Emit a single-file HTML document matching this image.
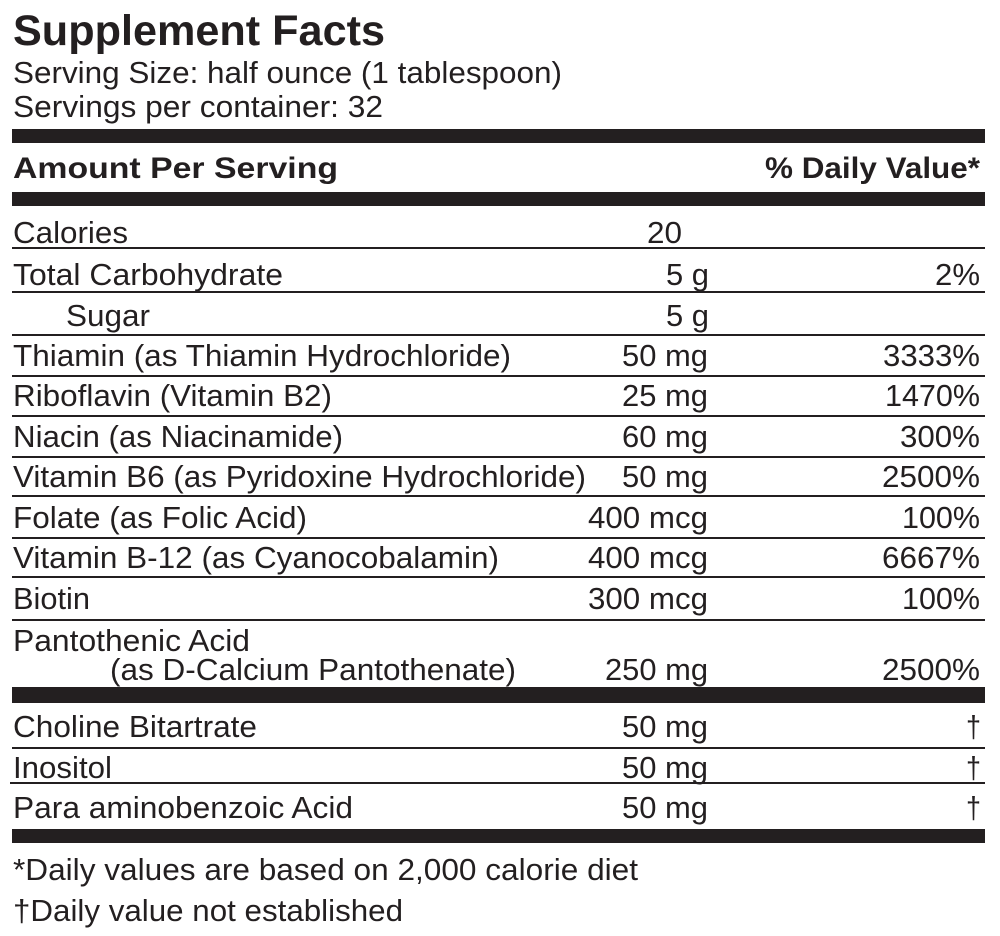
<!DOCTYPE html>
<html>
<head>
<meta charset="utf-8">
<style>
  html, body { margin:0; padding:0; background:#fff; }
  svg { display:block; }
  text { font-family: "Liberation Sans", Arial, sans-serif; fill:#231f20; }
  .b { font-size:31px; }
  .h { font-size:30px; font-weight:bold; }
  .t { font-size:43px; font-weight:bold; }
</style>
</head>
<body>
<svg width="1000" height="936" viewBox="0 0 1000 936" xmlns="http://www.w3.org/2000/svg">
  <rect x="0" y="0" width="1000" height="936" fill="#fff"/>

  <!-- header -->
  <text class="t" x="13" y="45" textLength="372" lengthAdjust="spacingAndGlyphs">Supplement Facts</text>
  <text class="b" x="13" y="83" textLength="549" lengthAdjust="spacingAndGlyphs">Serving Size: half ounce (1 tablespoon)</text>
  <text class="b" x="13" y="117" textLength="370" lengthAdjust="spacingAndGlyphs">Servings per container: 32</text>

  <rect x="12" y="129" width="973" height="14" fill="#231f20"/>

  <text class="h" x="13" y="178" textLength="325" lengthAdjust="spacingAndGlyphs">Amount Per Serving</text>
  <text class="h" x="765" y="178" textLength="215" lengthAdjust="spacingAndGlyphs">% Daily Value*</text>

  <rect x="12" y="192" width="973" height="14" fill="#231f20"/>

  <!-- thin lines -->
  <g fill="#231f20">
    <rect x="12" y="247" width="973" height="2"/>
    <rect x="12" y="291" width="973" height="2"/>
    <rect x="12" y="334" width="973" height="2"/>
    <rect x="12" y="375" width="973" height="2"/>
    <rect x="12" y="415" width="973" height="2"/>
    <rect x="12" y="456" width="973" height="2"/>
    <rect x="12" y="495" width="973" height="2"/>
    <rect x="12" y="537" width="973" height="2"/>
    <rect x="12" y="576" width="973" height="2"/>
    <rect x="12" y="619" width="973" height="2"/>
    <rect x="12" y="687" width="973" height="16"/>
    <rect x="12" y="747" width="973" height="2"/>
    <rect x="10" y="782" width="975" height="2"/>
    <rect x="12" y="829" width="973" height="14"/>
  </g>

  <!-- rows -->
  <text class="b" x="13" y="243" textLength="115" lengthAdjust="spacingAndGlyphs">Calories</text>
  <text class="b" x="647" y="243" textLength="35" lengthAdjust="spacingAndGlyphs">20</text>

  <text class="b" x="13" y="285" textLength="270" lengthAdjust="spacingAndGlyphs">Total Carbohydrate</text>
  <text class="b" x="666" y="285" textLength="43" lengthAdjust="spacingAndGlyphs">5 g</text>
  <text class="b" x="935" y="285" textLength="45" lengthAdjust="spacingAndGlyphs">2%</text>

  <text class="b" x="66" y="326" textLength="84" lengthAdjust="spacingAndGlyphs">Sugar</text>
  <text class="b" x="666" y="326" textLength="43" lengthAdjust="spacingAndGlyphs">5 g</text>

  <text class="b" x="13" y="366" textLength="498" lengthAdjust="spacingAndGlyphs">Thiamin (as Thiamin Hydrochloride)</text>
  <text class="b" x="622" y="366" textLength="86" lengthAdjust="spacingAndGlyphs">50 mg</text>
  <text class="b" x="883" y="366" textLength="97" lengthAdjust="spacingAndGlyphs">3333%</text>

  <text class="b" x="13" y="406" textLength="319" lengthAdjust="spacingAndGlyphs">Riboflavin (Vitamin B2)</text>
  <text class="b" x="622" y="406" textLength="86" lengthAdjust="spacingAndGlyphs">25 mg</text>
  <text class="b" x="885" y="406" textLength="95" lengthAdjust="spacingAndGlyphs">1470%</text>

  <text class="b" x="13" y="447" textLength="330" lengthAdjust="spacingAndGlyphs">Niacin (as Niacinamide)</text>
  <text class="b" x="622" y="447" textLength="86" lengthAdjust="spacingAndGlyphs">60 mg</text>
  <text class="b" x="900" y="447" textLength="80" lengthAdjust="spacingAndGlyphs">300%</text>

  <text class="b" x="13" y="487" textLength="573" lengthAdjust="spacingAndGlyphs">Vitamin B6 (as Pyridoxine Hydrochloride)</text>
  <text class="b" x="622" y="487" textLength="86" lengthAdjust="spacingAndGlyphs">50 mg</text>
  <text class="b" x="882" y="487" textLength="98" lengthAdjust="spacingAndGlyphs">2500%</text>

  <text class="b" x="13" y="528" textLength="294" lengthAdjust="spacingAndGlyphs">Folate (as Folic Acid)</text>
  <text class="b" x="588" y="528" textLength="120" lengthAdjust="spacingAndGlyphs">400 mcg</text>
  <text class="b" x="902" y="528" textLength="78" lengthAdjust="spacingAndGlyphs">100%</text>

  <text class="b" x="13" y="568" textLength="486" lengthAdjust="spacingAndGlyphs">Vitamin B-12 (as Cyanocobalamin)</text>
  <text class="b" x="588" y="568" textLength="120" lengthAdjust="spacingAndGlyphs">400 mcg</text>
  <text class="b" x="882" y="568" textLength="98" lengthAdjust="spacingAndGlyphs">6667%</text>

  <text class="b" x="13" y="609" textLength="77" lengthAdjust="spacingAndGlyphs">Biotin</text>
  <text class="b" x="588" y="609" textLength="120" lengthAdjust="spacingAndGlyphs">300 mcg</text>
  <text class="b" x="902" y="609" textLength="78" lengthAdjust="spacingAndGlyphs">100%</text>

  <text class="b" x="13" y="651" textLength="237" lengthAdjust="spacingAndGlyphs">Pantothenic Acid</text>
  <text class="b" x="110" y="680" textLength="406" lengthAdjust="spacingAndGlyphs">(as D-Calcium Pantothenate)</text>
  <text class="b" x="605" y="680" textLength="103" lengthAdjust="spacingAndGlyphs">250 mg</text>
  <text class="b" x="882" y="680" textLength="98" lengthAdjust="spacingAndGlyphs">2500%</text>

  <text class="b" x="13" y="737" textLength="244" lengthAdjust="spacingAndGlyphs">Choline Bitartrate</text>
  <text class="b" x="622" y="737" textLength="86" lengthAdjust="spacingAndGlyphs">50 mg</text>
  <text class="b" x="966" y="737" textLength="15" lengthAdjust="spacingAndGlyphs">†</text>

  <text class="b" x="13" y="778" textLength="99" lengthAdjust="spacingAndGlyphs">Inositol</text>
  <text class="b" x="622" y="778" textLength="86" lengthAdjust="spacingAndGlyphs">50 mg</text>
  <text class="b" x="966" y="778" textLength="15" lengthAdjust="spacingAndGlyphs">†</text>

  <text class="b" x="13" y="818" textLength="340" lengthAdjust="spacingAndGlyphs">Para aminobenzoic Acid</text>
  <text class="b" x="622" y="818" textLength="86" lengthAdjust="spacingAndGlyphs">50 mg</text>
  <text class="b" x="966" y="818" textLength="15" lengthAdjust="spacingAndGlyphs">†</text>

  <!-- footer -->
  <text class="b" x="13" y="880" textLength="625" lengthAdjust="spacingAndGlyphs">*Daily values are based on 2,000 calorie diet</text>
  <text class="b" x="13" y="921" textLength="390" lengthAdjust="spacingAndGlyphs">†Daily value not established</text>
</svg>
</body>
</html>
